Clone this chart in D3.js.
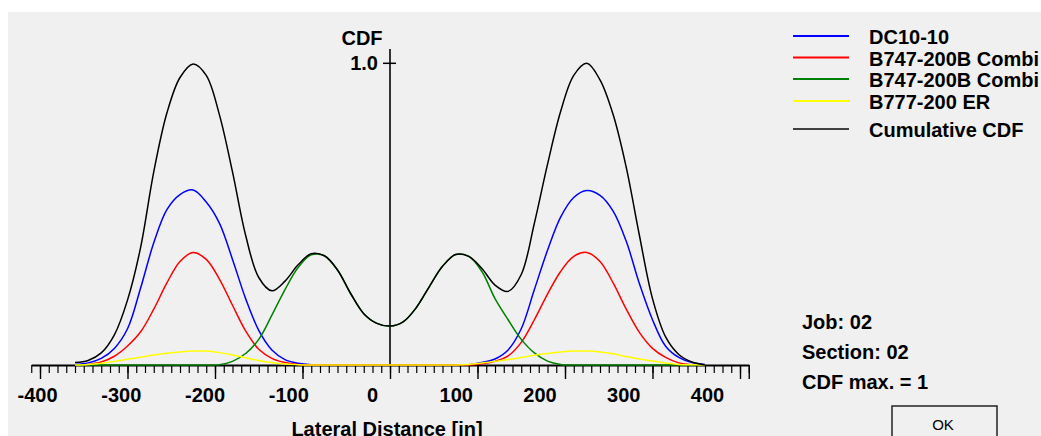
<!DOCTYPE html>
<html>
<head>
<meta charset="utf-8">
<script src="https://cdn.jsdelivr.net/npm/d3@7"></script>
<style>
    html, body { margin: 0; padding: 0; background: #ffffff; }
    svg { display: block; }
    text { font-family: "Liberation Sans", Arial, sans-serif; }
</style>
</head>
<body>
<svg id="chart" width="1041" height="436"></svg>
<script>
// lateral distance [in] of each sample
const lateral = [-360, -345, -330, -315, -300, -285, -270, -255, -240, -225, -210, -195, -180, -165, -150, -135, -120,
    -105, -90, -75, -60, -45, -30, -15, 0, 15, 30, 45, 60, 75, 90, 105, 120, 135, 150, 165, 180, 195, 210, 225, 240,
    255, 270, 285, 300, 315, 330, 345, 360];

const dc1010 = [0.002, 0.007, 0.022, 0.055, 0.12, 0.255, 0.405, 0.515, 0.565, 0.58, 0.54, 0.47, 0.35, 0.22, 0.115,
    0.05, 0.018, 0.006, 0.001, 0, 0, 0, 0, 0, 0, 0, 0, 0, 0, 0, 0.001, 0.008, 0.02, 0.05, 0.12, 0.25, 0.38, 0.49,
    0.555, 0.578, 0.562, 0.51, 0.41, 0.27, 0.15, 0.062, 0.025, 0.008, 0.002];

const b747Wing = [0, 0.002, 0.01, 0.029, 0.063, 0.11, 0.185, 0.272, 0.343, 0.373, 0.35, 0.285, 0.198, 0.113, 0.052,
    0.022, 0.008, 0.002, 0, 0, 0, 0, 0, 0, 0, 0, 0, 0, 0, 0, 0, 0.004, 0.012, 0.03, 0.075, 0.15, 0.235, 0.31, 0.36,
    0.373, 0.343, 0.272, 0.185, 0.108, 0.055, 0.025, 0.007, 0.001, 0];

const b747Body = [0, 0, 0, 0, 0, 0, 0, 0, 0, 0, 0, 0.001, 0.012, 0.038, 0.085, 0.165, 0.25, 0.323, 0.365, 0.362,
    0.315, 0.237, 0.17, 0.138, 0.129, 0.143, 0.19, 0.26, 0.327, 0.366, 0.36, 0.31, 0.22, 0.15, 0.085, 0.04, 0.013,
    0.002, 0, 0, 0, 0, 0, 0, 0, 0, 0, 0, 0];

const b777 = [0, 0.002, 0.006, 0.012, 0.019, 0.026, 0.033, 0.039, 0.043, 0.046, 0.046, 0.041, 0.033, 0.024, 0.015,
    0.008, 0.003, 0.001, 0, 0, 0, 0, 0, 0, 0, 0, 0, 0, 0, 0, 0.002, 0.007, 0.012, 0.018, 0.025, 0.032, 0.038, 0.043,
    0.046, 0.046, 0.043, 0.037, 0.028, 0.02, 0.013, 0.007, 0.002, 0.001, 0];

const cumulative = [0.008, 0.015, 0.04, 0.10, 0.215, 0.39, 0.64, 0.835, 0.953, 0.998, 0.96, 0.83, 0.64, 0.43, 0.29,
    0.246, 0.278, 0.332, 0.369, 0.362, 0.315, 0.237, 0.17, 0.138, 0.129, 0.143, 0.19, 0.26, 0.327, 0.366, 0.36, 0.32,
    0.265, 0.244, 0.30, 0.47, 0.665, 0.84, 0.96, 1.0, 0.945, 0.83, 0.655, 0.43, 0.22, 0.093, 0.035, 0.01, 0];

const seriesNames = ["DC10-10", "B747-200B Combi", "B747-200B Combi", "B777-200 ER", "Cumulative CDF"];
const xTickLabels = [-400, -300, -200, -100, 0, 100, 200, 300, 400];
const infoLines = ["Job: 02", "Section: 02", "CDF max. = 1"];

const series = [dc1010, b747Wing, b747Body, b777, cumulative];
const colors = ["#0000ff", "#ff0000", "#008000", "#ffff00", "#000000"];
const legendColors = ["#0000ff", "#ff0000", "#008000", "#ffff00", "#404040"];

const svg = d3.select("#chart");

// grey dialog face
svg.append("rect")
    .attr("x", 8).attr("y", 12)
    .attr("width", 1041 - 8).attr("height", 436 - 12)
    .attr("fill", "#f0f0f0");

const x = d3.scaleLinear().domain([-410, 410]).range([31.25, 748.75]);
const xLabel = d3.scaleLinear().domain([-400, 400]).range([37, 707]);
const y = d3.scaleLinear().domain([0, 1]).range([365, 63.3]);
const baseY = y(0);

// minor ticks every 10 in, major every 100 in
svg.append("g")
    .attr("transform", "translate(0," + baseY + ")")
    .call(d3.axisBottom(x).tickValues(d3.range(-410, 411, 10)).tickSize(8).tickSizeOuter(0).tickFormat(""))
    .call(function (g) {
        g.select(".domain").attr("stroke", "#000").attr("stroke-width", 2);
        g.selectAll(".tick line").attr("stroke", "#000").attr("stroke-width", 1.2);
    });

svg.append("g")
    .attr("transform", "translate(0," + baseY + ")")
    .call(d3.axisBottom(x).tickValues([-400, -300, -200, -100, 0, 100, 200, 300, 400, 410]).tickSize(14).tickFormat(""))
    .call(function (g) {
        g.select(".domain").remove();
        g.selectAll(".tick line").attr("stroke", "#000").attr("stroke-width", 1.4);
    });

// tick labels sit on their own (slightly narrower) scale, as in the original
svg.append("g")
    .attr("transform", "translate(0,383)")
    .call(d3.axisBottom(xLabel).tickValues(xTickLabels).tickSize(0).tickPadding(0)
        .tickFormat(function (d) { return String(d); }))
    .call(function (g) {
        g.select(".domain").remove();
        g.selectAll("text")
            .attr("dy", "0.95em")
            .attr("fill", "#000")
            .style("font-size", "20px")
            .style("font-weight", "bold")
            .style("font-family", "'Liberation Sans', Arial, sans-serif");
    });

svg.append("text")
    .attr("x", 387).attr("y", 436)
    .attr("text-anchor", "middle")
    .style("font-size", "20px").style("font-weight", "bold")
    .text("Lateral Distance [in]");

// vertical CDF axis
svg.append("line")
    .attr("x1", x(0)).attr("x2", x(0))
    .attr("y1", 49).attr("y2", baseY)
    .attr("stroke", "#333").attr("stroke-width", 2);

svg.append("line")
    .attr("x1", x(0) - 7).attr("x2", x(0) + 6)
    .attr("y1", y(1)).attr("y2", y(1))
    .attr("stroke", "#000").attr("stroke-width", 1.5);

svg.append("text")
    .attr("x", 378).attr("y", y(1) + 7)
    .attr("text-anchor", "end")
    .style("font-size", "20px").style("font-weight", "bold")
    .text("1.0");

svg.append("text")
    .attr("x", 362).attr("y", 45)
    .attr("text-anchor", "middle")
    .style("font-size", "20px").style("font-weight", "bold")
    .text("CDF");

// curves
const line = d3.line()
    .x(function (d, i) { return x(lateral[i]); })
    .y(function (d) { return y(d); })
    .curve(d3.curveCatmullRom.alpha(0.5));

svg.append("g")
    .selectAll("path")
    .data(series)
    .enter()
    .append("path")
    .attr("d", line)
    .attr("fill", "none")
    .attr("stroke", function (d, i) { return colors[i]; })
    .attr("stroke-width", 1.5);

// legend
const legendY = [36, 57.5, 79, 101, 129];
const legend = svg.append("g")
    .selectAll("g")
    .data(seriesNames)
    .enter()
    .append("g")
    .attr("transform", function (d, i) { return "translate(0," + legendY[i] + ")"; });

legend.append("line")
    .attr("x1", 793).attr("x2", 849)
    .attr("stroke", function (d, i) { return legendColors[i]; })
    .attr("stroke-width", 2);

legend.append("text")
    .attr("x", 869).attr("y", 8)
    .style("font-size", "20px").style("font-weight", "bold")
    .text(function (d) { return d; });

// job info
svg.append("g")
    .selectAll("text")
    .data(infoLines)
    .enter()
    .append("text")
    .attr("x", 802)
    .attr("y", function (d, i) { return 329 + i * 30; })
    .style("font-size", "20px").style("font-weight", "bold")
    .text(function (d) { return d; });

// OK button
svg.append("rect")
    .attr("x", 892).attr("y", 406)
    .attr("width", 105).attr("height", 40)
    .attr("fill", "#f0f0f0")
    .attr("stroke", "#222").attr("stroke-width", 1.5);

svg.append("text")
    .attr("x", 943).attr("y", 430)
    .attr("text-anchor", "middle")
    .style("font-size", "15px")
    .text("OK");
</script>
</body>
</html>
